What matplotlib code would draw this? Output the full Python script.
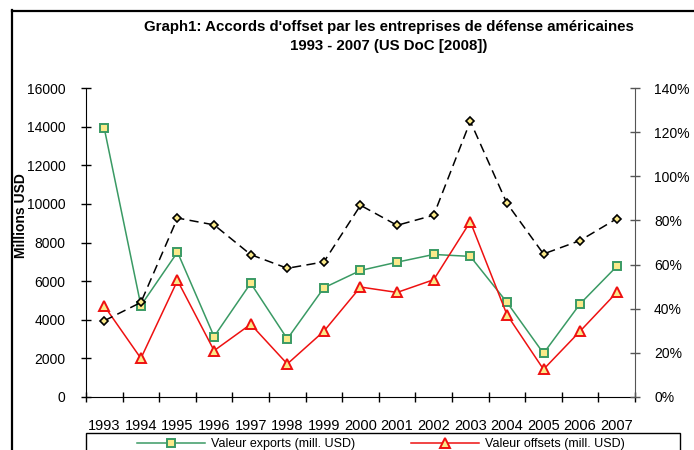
import numpy as np
import matplotlib
matplotlib.use("Agg")
import matplotlib.pyplot as plt
from matplotlib.lines import Line2D
from matplotlib.patches import Rectangle
from matplotlib.ticker import FixedLocator, PercentFormatter

plt.rcParams["font.family"] = ["Liberation Sans", "DejaVu Sans"]

years = ["1993", "1994", "1995", "1996", "1997", "1998", "1999", "2000",
         "2001", "2002", "2003", "2004", "2005", "2006", "2007"]
exports = [13920, 4730, 7500, 3120, 5890, 3000, 5650, 6550,
           6980, 7380, 7280, 4900, 2250, 4820, 6760]
offsets = [4710, 1990, 6030, 2390, 3760, 1700, 3400, 5690,
           5410, 6070, 9080, 4260, 1420, 3400, 5410]
ratio = [0.345, 0.428, 0.811, 0.780, 0.645, 0.583, 0.612, 0.869,
         0.778, 0.824, 1.250, 0.878, 0.648, 0.709, 0.808]

yellow = "#FBEA8A"
green = "#3A9A64"
red = "#EE1111"

fig = plt.figure(figsize=(6.94, 4.5), dpi=100)
ax = fig.add_axes([0.1239, 0.1184, 0.7911, 0.6854])
ax2 = ax.twinx()

x = np.arange(len(years))

ax.plot(x, exports, color=green, lw=1.1, marker="s", ms=6,
        mfc=yellow, mec=green, mew=1.4, label="Valeur exports (mill. USD)", zorder=3)
ax.plot(x, offsets, color=red, lw=1.1, marker="^", ms=6.5,
        mfc=yellow, mec=red, mew=1.4, label="Valeur offsets (mill. USD)", zorder=3)
ax2.plot(x, ratio, color="black", lw=1.1, ls=(0, (6, 3.5)), marker="D", ms=4.5,
         mfc=yellow, mec="black", mew=1.2, zorder=3)

ax.set_xlim(-0.5, len(years) - 0.5)
ax.set_ylim(0, 16000)
ax2.set_ylim(0, 1.4)

ax.set_yticks(np.arange(0, 16001, 2000))
ax2.set_yticks(np.arange(0, 1.41, 0.2))
ax2.yaxis.set_major_formatter(PercentFormatter(1.0, decimals=0))

ax.set_xticks(x)
ax.set_xticklabels(years)
ax.xaxis.set_minor_locator(FixedLocator(np.arange(-0.5, len(years), 1.0)))
ax.tick_params(axis="x", which="major", length=0, pad=16, labelsize=10.5)
ax.tick_params(axis="x", which="minor", direction="inout", length=6.5, width=1)
ax.tick_params(axis="y", direction="inout", length=6.5, width=1, pad=11.5, labelsize=10)
ax2.tick_params(axis="y", direction="inout", length=6.5, width=1, pad=10.5,
                labelsize=10, color="#555555")

for a in (ax, ax2):
    a.spines["top"].set_visible(False)
ax.spines["right"].set_visible(False)
ax2.spines["left"].set_visible(False)
ax2.spines["bottom"].set_visible(False)
ax2.spines["right"].set_color("#555555")

fig.text(21 / 694, 1 - 216 / 450, "Millions USD", rotation=90, ha="center",
         va="center", fontsize=10, fontweight="bold")

fig.text(389 / 694, 1 - 27 / 450, "Graph1: Accords d'offset par les entreprises de défense américaines",
         ha="center", va="center", fontsize=10.8, fontweight="bold")
fig.text(389 / 694, 1 - 46 / 450, "1993 - 2007 (US DoC [2008])",
         ha="center", va="center", fontsize=10.8, fontweight="bold")

# legend box (runs off the bottom edge, as in the source)
fig.add_artist(Rectangle((86 / 694, -5 / 450), 594 / 694, (5 + 450 - 433) / 450,
                         transform=fig.transFigure, fill=False,
                         edgecolor="black", lw=1))
leg = fig.legend(loc="center left", bbox_to_anchor=(137 / 694, 1 - 444 / 450),
                 ncol=2, fontsize=9, frameon=False, handlelength=5.4,
                 handletextpad=0.5, columnspacing=4.5, borderaxespad=0,
                 borderpad=0)

# outer frame
fig.add_artist(Line2D([12 / 694, 12 / 694], [0, 1 - 10 / 450],
                      transform=fig.transFigure, color="black", lw=1.6))
fig.add_artist(Line2D([12 / 694, 1], [1 - 10.5 / 450, 1 - 10.5 / 450],
                      transform=fig.transFigure, color="black", lw=1.6))

fig.savefig("out.png", dpi=100)
